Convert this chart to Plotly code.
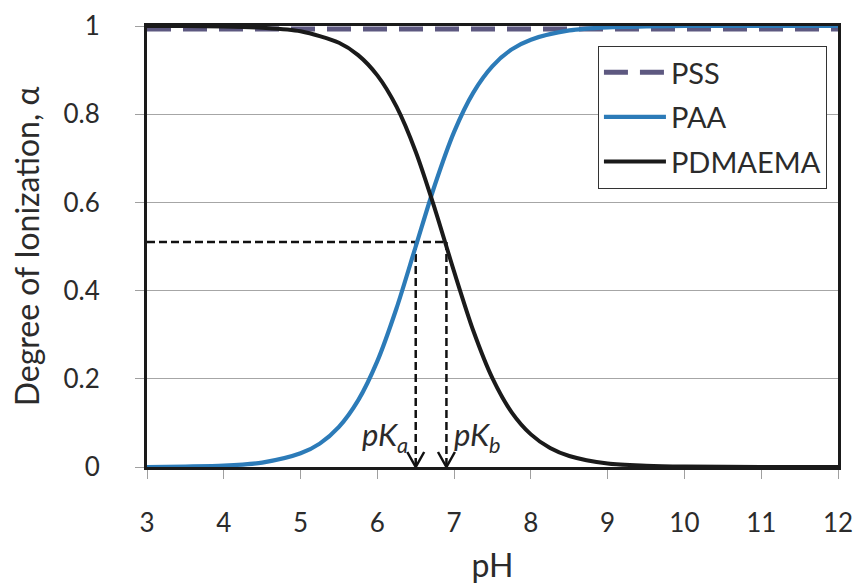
import plotly.graph_objects as go

# ---- data ----
ph_pss = [3.0, 12.0]
alpha_pss = [0.993, 0.993]

ph_paa = [3.0, 3.5, 4.0, 4.5, 5.0, 5.25, 5.5, 5.75, 6.0, 6.25, 6.5, 6.75,
          7.0, 7.25, 7.5, 7.75, 8.0, 8.5, 9.0, 9.5, 10.0, 11.0, 12.0]
alpha_paa = [0.000, 0.001, 0.003, 0.010, 0.031, 0.053, 0.091, 0.151, 0.240, 0.360, 0.500, 0.640,
             0.760, 0.849, 0.909, 0.947, 0.969, 0.990, 0.997, 0.999, 1.000, 1.000, 1.000]

ph_pdm = [3.0, 3.5, 4.0, 4.5, 5.0, 5.5, 5.75, 6.0, 6.25, 6.5, 6.75, 7.0,
          7.25, 7.5, 7.75, 8.0, 8.25, 8.5, 9.0, 9.5, 10.0, 11.0, 12.0]
alpha_pdm = [1.000, 1.000, 0.999, 0.996, 0.988, 0.962, 0.934, 0.888, 0.817, 0.715, 0.585, 0.443,
             0.309, 0.201, 0.124, 0.074, 0.043, 0.025, 0.008, 0.003, 0.001, 0.000, 0.000]

pKa = 6.5
pKb = 6.9
alpha_half = 0.51
ph_min, ph_max = 3, 12
x_ticks = [3, 4, 5, 6, 7, 8, 9, 10, 11, 12]
y_ticks = [0, 0.2, 0.4, 0.6, 0.8, 1]
y_tick_labels = ["0", "0.2", "0.4", "0.6", "0.8", "1"]

FONT = "Lato, 'Open Sans', sans-serif"
TXT = "#2b2b2b"

fig = go.Figure()

# guide lines (dashed) for pKa / pKb
guide = dict(color="#111111", width=2.5, dash="8px,4px")
fig.add_trace(go.Scatter(x=[ph_min, pKb], y=[alpha_half, alpha_half], mode="lines",
                         line=guide, showlegend=False, hoverinfo="skip"))
for pk in (pKa, pKb):
    fig.add_trace(go.Scatter(x=[pk, pk], y=[alpha_half, 0.0], mode="lines",
                             line=guide, showlegend=False, hoverinfo="skip"))
    fig.add_trace(go.Scatter(x=[pk - 0.11, pk, pk + 0.11], y=[0.034, 0.0, 0.034], mode="lines",
                             line=dict(color="#111111", width=2.5), showlegend=False,
                             hoverinfo="skip"))

fig.add_trace(go.Scatter(x=ph_pss, y=alpha_pss, mode="lines", name="PSS",
                         legendgroup="g1",
                         line=dict(color="#5d5880", width=5, dash="24px,12px")))
fig.add_trace(go.Scatter(x=ph_paa, y=alpha_paa, mode="lines", name="PAA",
                         legendgroup="g2",
                         line=dict(color="#2c7bb8", width=4.2, shape="spline", smoothing=0.8)))
fig.add_trace(go.Scatter(x=ph_pdm, y=alpha_pdm, mode="lines", name="PDMAEMA",
                         legendgroup="g3",
                         line=dict(color="#1a1a1a", width=4, shape="spline", smoothing=0.8)))

fig.add_annotation(x=pKa, y=0.0, xref="x", yref="y", xanchor="right", yanchor="bottom",
                   xshift=-6, yshift=7, showarrow=False,
                   text="<i>pK<sub>a</sub></i>", font=dict(family=FONT, size=31, color=TXT))
fig.add_annotation(x=pKb, y=0.0, xref="x", yref="y", xanchor="left", yanchor="bottom",
                   xshift=6, yshift=7, showarrow=False,
                   text="<i>pK<sub>b</sub></i>", font=dict(family=FONT, size=31, color=TXT))

fig.update_layout(
    width=858, height=584,
    margin=dict(l=147, r=20, t=26, b=117, autoexpand=False),
    paper_bgcolor="white", plot_bgcolor="white",
    font=dict(family=FONT, color=TXT),
    showlegend=True,
    legend=dict(x=0.984, y=0.955, xanchor="right", yanchor="top",
                bgcolor="white", bordercolor="#333333", borderwidth=1,
                font=dict(family=FONT, size=29, color=TXT),
                itemwidth=62,
                traceorder="grouped", tracegroupgap=4),
    xaxis=dict(range=[ph_min, ph_max], tickvals=x_ticks, ticktext=[str(v) for v in x_ticks],
               showgrid=False, zeroline=False,
               showline=True, linecolor="#1a1a1a", linewidth=3, mirror=True,
               ticks="outside", ticklen=9, tickcolor="#a0a0a0", tickwidth=1,
               ticklabelstandoff=22,
               tickfont=dict(family=FONT, size=26, color=TXT),
               title=dict(text="pH", font=dict(family=FONT, size=32, color=TXT), standoff=23)),
    yaxis=dict(range=[0, 1], tickvals=y_ticks, ticktext=y_tick_labels,
               showgrid=True, gridcolor="#a6a6a6", gridwidth=1, zeroline=False,
               showline=True, linecolor="#1a1a1a", linewidth=3, mirror=True,
               ticks="outside", ticklen=9, tickcolor="#a0a0a0", tickwidth=1,
               ticklabelstandoff=30,
               tickfont=dict(family=FONT, size=26, color=TXT),
               title=dict(text="Degree of Ionization, α", font=dict(family=FONT, size=32, color=TXT),
                          standoff=15)),
)

fig.write_html("out.html", config={"displayModeBar": False},
               post_script="document.body.style.margin='0';")
